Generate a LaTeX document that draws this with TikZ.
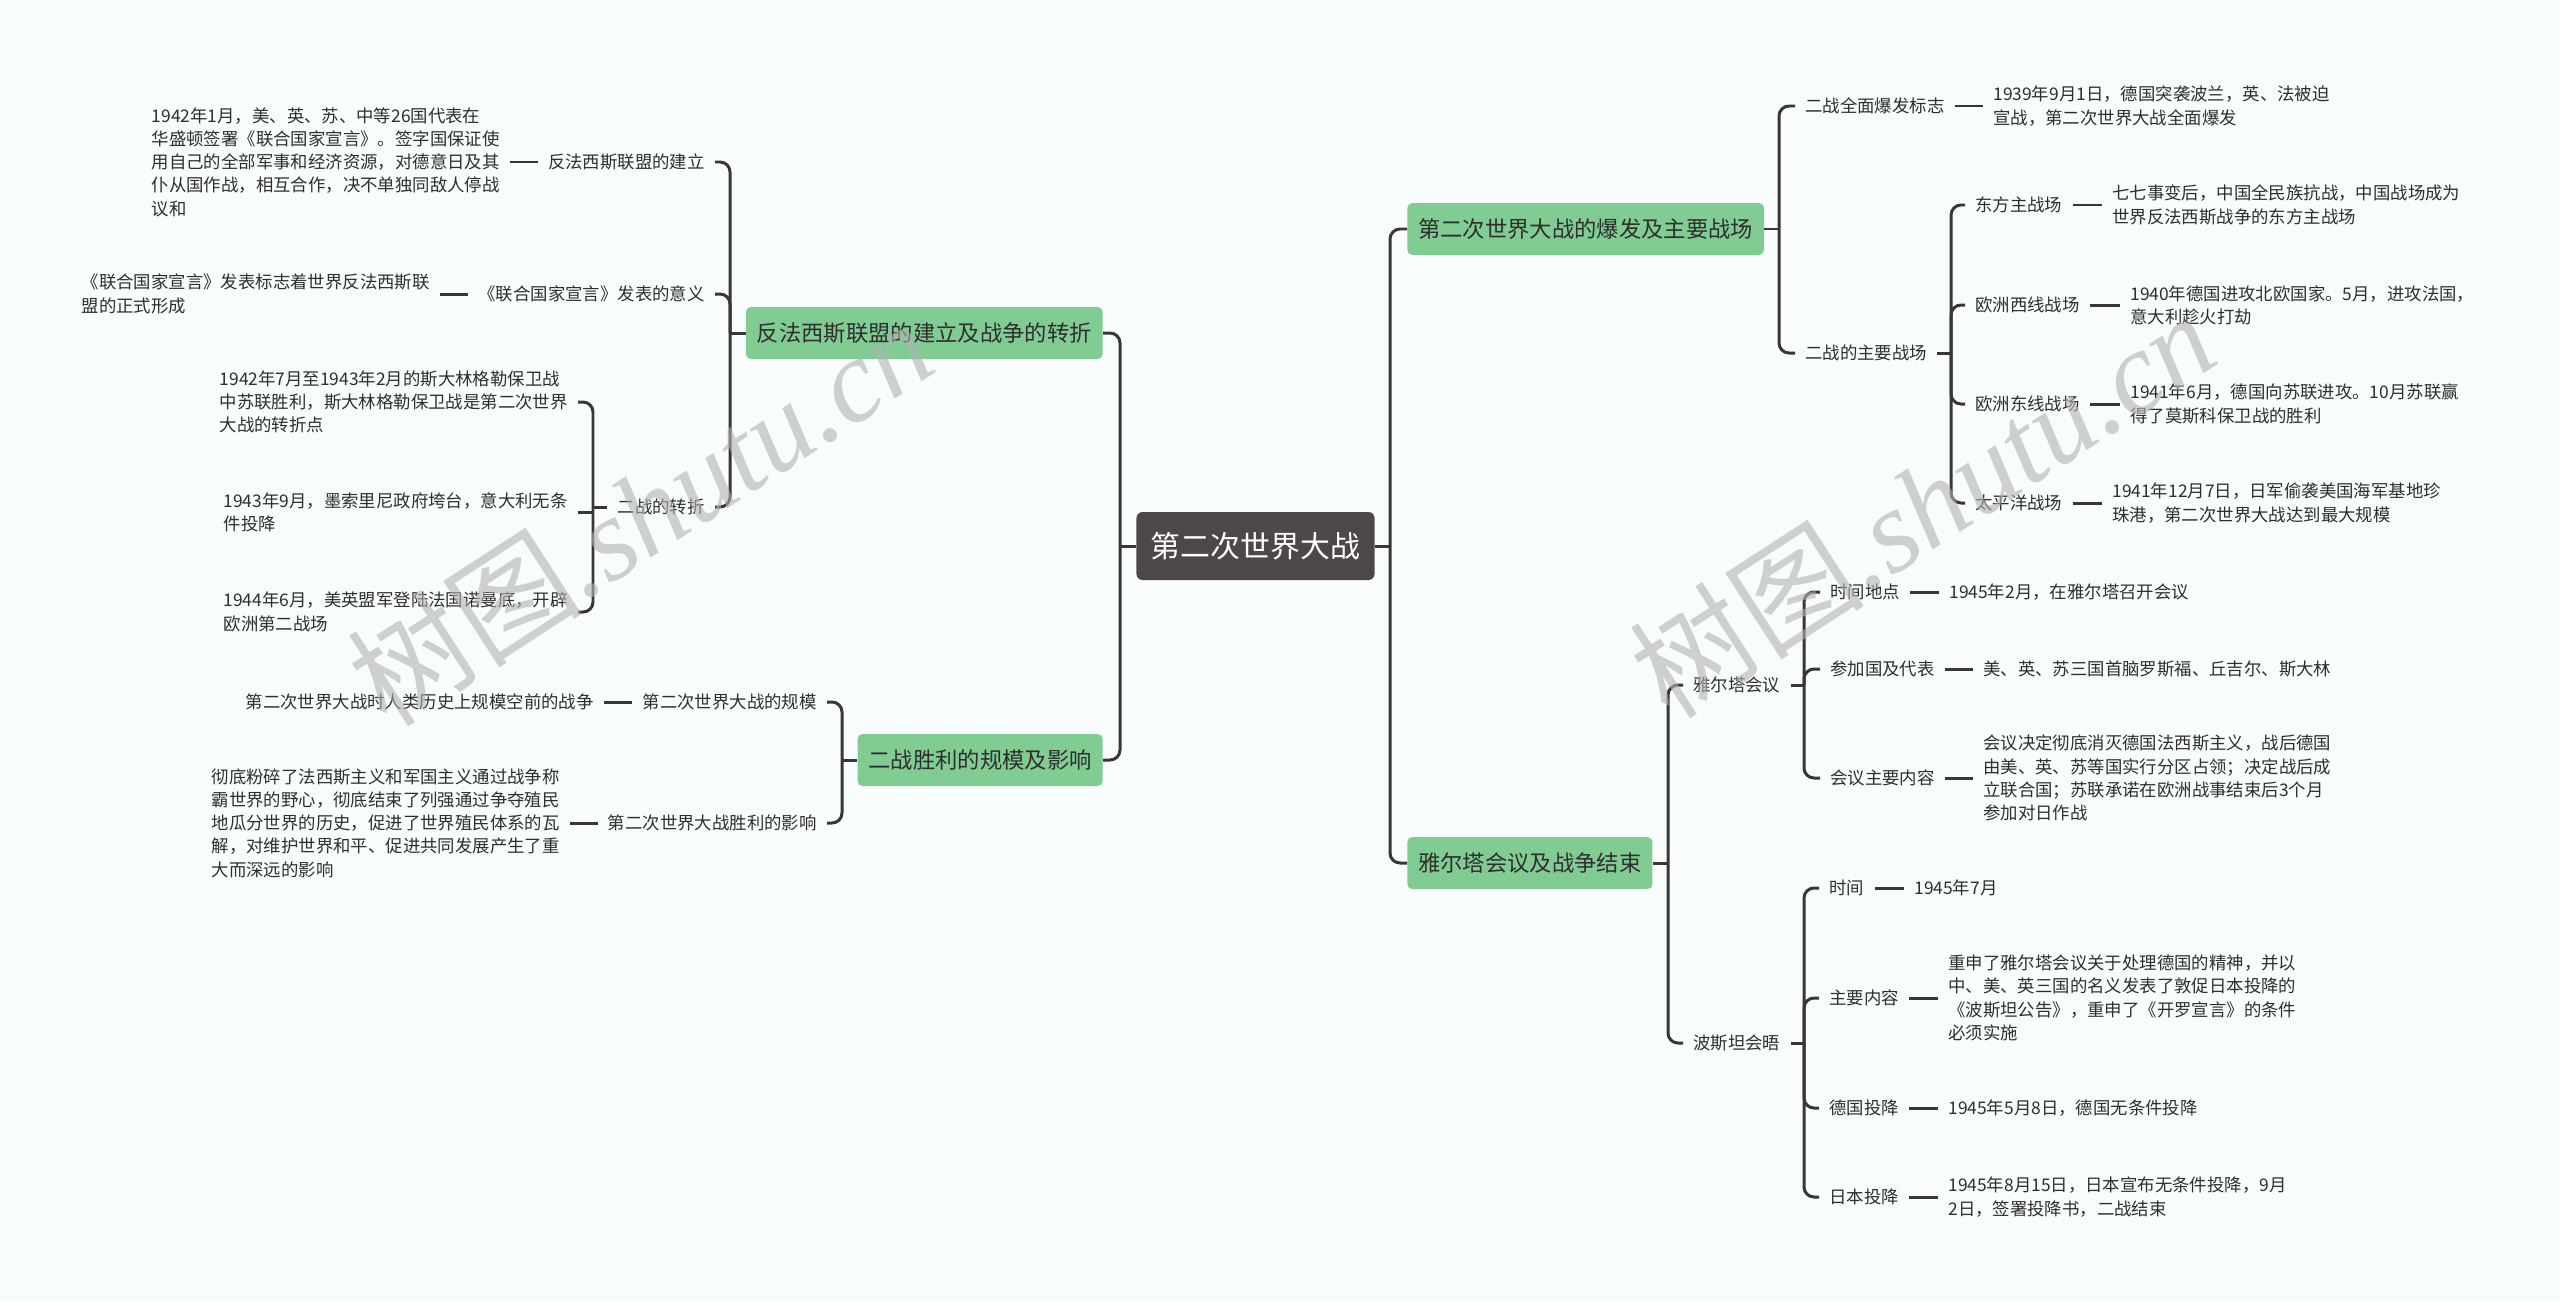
\documentclass[tikz,border=0pt]{standalone}
\usepackage{fontspec}
\usepackage{tikz}
\newfontfamily\cjk{Noto Sans CJK SC}
\newfontfamily\wmserif{Liberation Serif}
\definecolor{canvas}{HTML}{F8FCFD}
\definecolor{linegray}{HTML}{3B3636}
\definecolor{txtgray}{HTML}{2E2E2E}
\definecolor{topicgreen}{HTML}{80CC93}
\definecolor{rootgray}{HTML}{4D4747}
\definecolor{markgray}{HTML}{B3B3B3}
\tikzset{
  rootbox/.style={fill=rootgray,text=white,rounded corners=0.12cm,
                  inner xsep=0.29cm,minimum height=1.36cm,
                  font=\cjk\fontsize{17pt}{20pt}\selectfont},
  topicbox/.style={fill=topicgreen,text=txtgray,rounded corners=0.1cm,
                   inner xsep=0.22cm,minimum height=1.04cm,
                   font=\cjk\fontsize{12.7pt}{15pt}\selectfont},
  entry/.style={text=txtgray,inner xsep=0.2cm,inner ysep=0.05cm,align=left,
                font=\cjk\fontsize{9.9pt}{13.26pt}\selectfont},
  wire/.style={draw=linegray,line width=1.7pt},
  elbow/.style={wire,rounded corners=0.2cm},
  wmark/.style={text=markgray,text opacity=0.6,rotate=33,
                font=\fontsize{67pt}{67pt}\selectfont}
}
\begin{document}
\begin{tikzpicture}[x=0.02cm,y=-0.02cm]
    \useasboundingbox (0,0) rectangle (2560,1302);
    \fill[canvas] (0,0) rectangle (2560,1302);
    \node[rootbox] (root) at (1255.5,546) {第二次世界大战};
    \node[topicbox,anchor=west] (outbreak) at (1407,229)
      {第二次世界大战的爆发及主要战场};
    \node[topicbox,anchor=west] (ending) at (1407,863)
      {雅尔塔会议及战争结束};
    \node[topicbox,anchor=east] (alliance) at (1103,333)
      {反法西斯联盟的建立及战争的转折};
    \node[topicbox,anchor=east] (victory) at (1103,760)
      {二战胜利的规模及影响};
    \node[entry,anchor=west] (sign) at (1795,106) {二战全面爆发标志};
    \node[entry,anchor=west] (signtxt) at (1983,106)
      {1939年9月1日，德国突袭波兰，英、法被迫\\宣战，第二次世界大战全面爆发};
    \node[entry,anchor=west] (fields) at (1795,353) {二战的主要战场};
    \node[entry,anchor=west] (china) at (1965,205) {东方主战场};
    \node[entry,anchor=west] (chinatxt) at (2102,205)
      {七七事变后，中国全民族抗战，中国战场成为\\世界反法西斯战争的东方主战场};
    \node[entry,anchor=west] (wfront) at (1965,305) {欧洲西线战场};
    \node[entry,anchor=west] (wfronttxt) at (2120,305)
      {1940年德国进攻北欧国家。5月，进攻法国，\\意大利趁火打劫};
    \node[entry,anchor=west] (efront) at (1965,404) {欧洲东线战场};
    \node[entry,anchor=west] (efronttxt) at (2120,404)
      {1941年6月，德国向苏联进攻。10月苏联赢\\得了莫斯科保卫战的胜利};
    \node[entry,anchor=west] (pacific) at (1965,503) {太平洋战场};
    \node[entry,anchor=west] (pacifictxt) at (2102,503)
      {1941年12月7日，日军偷袭美国海军基地珍\\珠港，第二次世界大战达到最大规模};
    \node[entry,anchor=west] (yalta) at (1683,685) {雅尔塔会议};
    \node[entry,anchor=west] (ytime) at (1820,592) {时间地点};
    \node[entry,anchor=west] (ytimetxt) at (1939,592)
      {1945年2月，在雅尔塔召开会议};
    \node[entry,anchor=west] (ymembers) at (1820,669) {参加国及代表};
    \node[entry,anchor=west] (ymemberstxt) at (1973,669)
      {美、英、苏三国首脑罗斯福、丘吉尔、斯大林};
    \node[entry,anchor=west] (ycontent) at (1820,778) {会议主要内容};
    \node[entry,anchor=west] (ycontenttxt) at (1973,778)
      {会议决定彻底消灭德国法西斯主义，战后德国\\由美、英、苏等国实行分区占领；决定战后成\\立联合国；苏联承诺在欧洲战事结束后3个月\\参加对日作战};
    \node[entry,anchor=west] (potsdam) at (1683,1043) {波斯坦会晤};
    \node[entry,anchor=west] (ptime) at (1819,888) {时间};
    \node[entry,anchor=west] (ptimetxt) at (1904,888) {1945年7月};
    \node[entry,anchor=west] (pcontent) at (1819,998) {主要内容};
    \node[entry,anchor=west] (pcontenttxt) at (1938,998)
      {重申了雅尔塔会议关于处理德国的精神，并以\\中、美、英三国的名义发表了敦促日本投降的\\《波斯坦公告》，重申了《开罗宣言》的条件\\必须实施};
    \node[entry,anchor=west] (germany) at (1819,1108) {德国投降};
    \node[entry,anchor=west] (germanytxt) at (1938,1108)
      {1945年5月8日，德国无条件投降};
    \node[entry,anchor=west] (japan) at (1819,1197) {日本投降};
    \node[entry,anchor=west] (japantxt) at (1938,1197)
      {1945年8月15日，日本宣布无条件投降，9月\\2日，签署投降书，二战结束};
    \node[entry,anchor=east] (founding) at (715,162) {反法西斯联盟的建立};
    \node[entry,anchor=east] (foundingtxt) at (510,162)
      {1942年1月，美、英、苏、中等26国代表在\\华盛顿签署《联合国家宣言》。签字国保证使\\用自己的全部军事和经济资源，对德意日及其\\仆从国作战，相互合作，决不单独同敌人停战\\议和};
    \node[entry,anchor=east] (declare) at (715,294) {《联合国家宣言》发表的意义};
    \node[entry,anchor=east] (declaretxt) at (440,294)
      {《联合国家宣言》发表标志着世界反法西斯联\\盟的正式形成};
    \node[entry,anchor=east] (turn) at (715,507) {二战的转折};
    \node[entry,anchor=east] (stalin) at (578,402)
      {1942年7月至1943年2月的斯大林格勒保卫战\\中苏联胜利，斯大林格勒保卫战是第二次世界\\大战的转折点};
    \node[entry,anchor=east] (italy) at (578,512)
      {1943年9月，墨索里尼政府垮台，意大利无条\\件投降};
    \node[entry,anchor=east] (normandy) at (578,612)
      {1944年6月，美英盟军登陆法国诺曼底，开辟\\欧洲第二战场};
    \node[entry,anchor=east] (extent) at (827,702) {第二次世界大战的规模};
    \node[entry,anchor=east] (extenttxt) at (604,702)
      {第二次世界大战时人类历史上规模空前的战争};
    \node[entry,anchor=east] (impact) at (827,823) {第二次世界大战胜利的影响};
    \node[entry,anchor=east] (impacttxt) at (570,823)
      {彻底粉碎了法西斯主义和军国主义通过战争称\\霸世界的野心，彻底结束了列强通过争夺殖民\\地瓜分世界的历史，促进了世界殖民体系的瓦\\解，对维护世界和平、促进共同发展产生了重\\大而深远的影响};
    \coordinate (rootR) at (1390,546);
    \coordinate (rootL) at (1120,546);
    \coordinate (outJ) at (1779,229);
    \coordinate (fieldJ) at (1951,353);
    \coordinate (endJ) at (1668,863);
    \coordinate (yaltaJ) at (1804,685);
    \coordinate (potsJ) at (1804,1043);
    \coordinate (allyJ) at (730,333);
    \coordinate (turnJ) at (593,507);
    \coordinate (victJ) at (842,760);
    \draw[wire] (root.east) -- (rootR);
    \draw[wire] (root.west) -- (rootL);
    \draw[wire] (outbreak.east) -- (outJ);
    \draw[wire] (fields.east) -- (fieldJ);
    \draw[wire] (ending.east) -- (endJ);
    \draw[wire] (yalta.east) -- (yaltaJ);
    \draw[wire] (potsdam.east) -- (potsJ);
    \draw[wire] (alliance.west) -- (allyJ);
    \draw[wire] (turn.west) -- (turnJ);
    \draw[wire] (victory.west) -- (victJ);
    \foreach \j/\n in {rootR/outbreak,rootR/ending,outJ/sign,outJ/fields,
        fieldJ/china,fieldJ/wfront,fieldJ/efront,fieldJ/pacific,
        endJ/yalta,endJ/potsdam,yaltaJ/ytime,yaltaJ/ymembers,yaltaJ/ycontent,
        potsJ/ptime,potsJ/pcontent,potsJ/germany,potsJ/japan}
      \draw[elbow] (\j) |- (\n.west);
    \foreach \j/\n in {rootL/alliance,rootL/victory,allyJ/founding,
        allyJ/declare,allyJ/turn,turnJ/stalin,turnJ/normandy,
        victJ/extent,victJ/impact}
      \draw[elbow] (\j) |- (\n.east);
    \draw[wire] (turnJ) |- (italy.east);
    \foreach \a/\b in {sign/signtxt,china/chinatxt,wfront/wfronttxt,
        efront/efronttxt,pacific/pacifictxt,ytime/ytimetxt,
        ymembers/ymemberstxt,ycontent/ycontenttxt,ptime/ptimetxt,
        pcontent/pcontenttxt,germany/germanytxt,japan/japantxt}
      \draw[wire] (\a.east) -- (\b.west);
    \foreach \a/\b in {founding/foundingtxt,declare/declaretxt,
        extent/extenttxt,impact/impacttxt}
      \draw[wire] (\a.west) -- (\b.east);
    \node[wmark] (markL) at (640,512) {{\cjk 树图}\wmserif\itshape .shutu.cn};
    \node[wmark] (markR) at (1922,504) {{\cjk 树图}\wmserif\itshape .shutu.cn};
  \end{tikzpicture}
\end{document}
